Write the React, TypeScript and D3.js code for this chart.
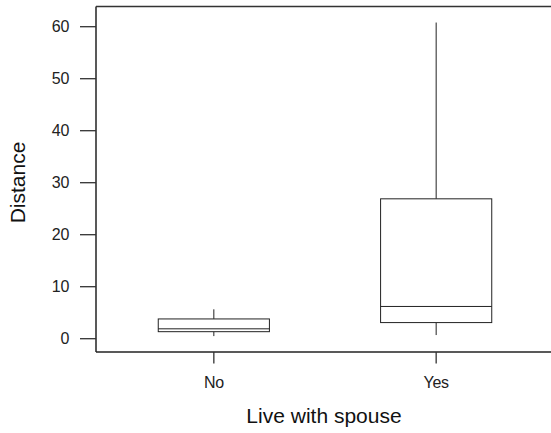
import React from "react";
import { scaleLinear, scaleBand } from "d3";

// box stats
const groups = ["No", "Yes"];
const lowWhisker = [0.5, 0.7];
const q1 = [1.35, 3.1];
const median = [1.9, 6.2];
const q3 = [3.8, 26.9];
const highWhisker = [5.65, 60.8];
const yTickValues = [0, 10, 20, 30, 40, 50, 60];

const W = 551;
const H = 433;
const left = 96;
const top = 6.5;
const bottom = 352;

export default function App() {
  const yScale = scaleLinear().domain([0, 60]).range([338.7, 26.7]);
  const xScale = scaleBand<string>()
    .domain(groups)
    .range([left, 554])
    .paddingInner(0.5)
    .paddingOuter(0.28);
  const bw = xScale.bandwidth();
  const font = "Arial, 'Liberation Sans', sans-serif";

  return (
    <svg width={W} height={H} style={{ position: "absolute", left: 0, top: 0, background: "white" }}>
      {/* frame: left, top, bottom */}
      <line x1={left} y1={top} x2={left} y2={bottom} stroke="#222" strokeWidth={1.5} />
      <line x1={left} y1={top} x2={W} y2={top} stroke="#333" strokeWidth={1.5} />
      <line x1={left} y1={bottom} x2={W} y2={bottom} stroke="#222" strokeWidth={1.5} />

      {yTickValues.map(t => (
        <g key={t} transform={`translate(0, ${yScale(t)})`}>
          <line x1={80} x2={left} stroke="#333" strokeWidth={1.3} />
          <text x={69} dy="0.36em" textAnchor="end" fontSize={16} fontFamily={font} fill="#222" letterSpacing={-0.3}>
            {t}
          </text>
        </g>
      ))}

      {groups.map((g, i) => {
        const x0 = xScale(g)!;
        const cx = x0 + bw / 2;
        return (
          <g key={g}>
            <line x1={cx} x2={cx} y1={bottom} y2={bottom + 11.5} stroke="#333" strokeWidth={1.3} />
            <text x={cx} y={388} textAnchor="middle" fontSize={16} fontFamily={font} fill="#222" letterSpacing={-0.3}>
              {g}
            </text>
            <line x1={cx} x2={cx} y1={yScale(highWhisker[i])} y2={yScale(q3[i])} stroke="#222" strokeWidth={1} />
            <line x1={cx} x2={cx} y1={yScale(q1[i])} y2={yScale(lowWhisker[i])} stroke="#222" strokeWidth={1} />
            <rect
              x={x0}
              y={yScale(q3[i])}
              width={bw}
              height={yScale(q1[i]) - yScale(q3[i])}
              fill="white"
              stroke="#222"
              strokeWidth={1}
            />
            <line x1={x0} x2={x0 + bw} y1={yScale(median[i])} y2={yScale(median[i])} stroke="#222" strokeWidth={1} />
          </g>
        );
      })}

      <text x={324} y={423} textAnchor="middle" fontSize={21} fontFamily={font} fill="#111">
        Live with spouse
      </text>
      <text
        transform={`translate(25, 182.5) rotate(-90)`}
        textAnchor="middle"
        fontSize={21}
        fontFamily={font}
        fill="#111"
      >
        Distance
      </text>
    </svg>
  );
}
